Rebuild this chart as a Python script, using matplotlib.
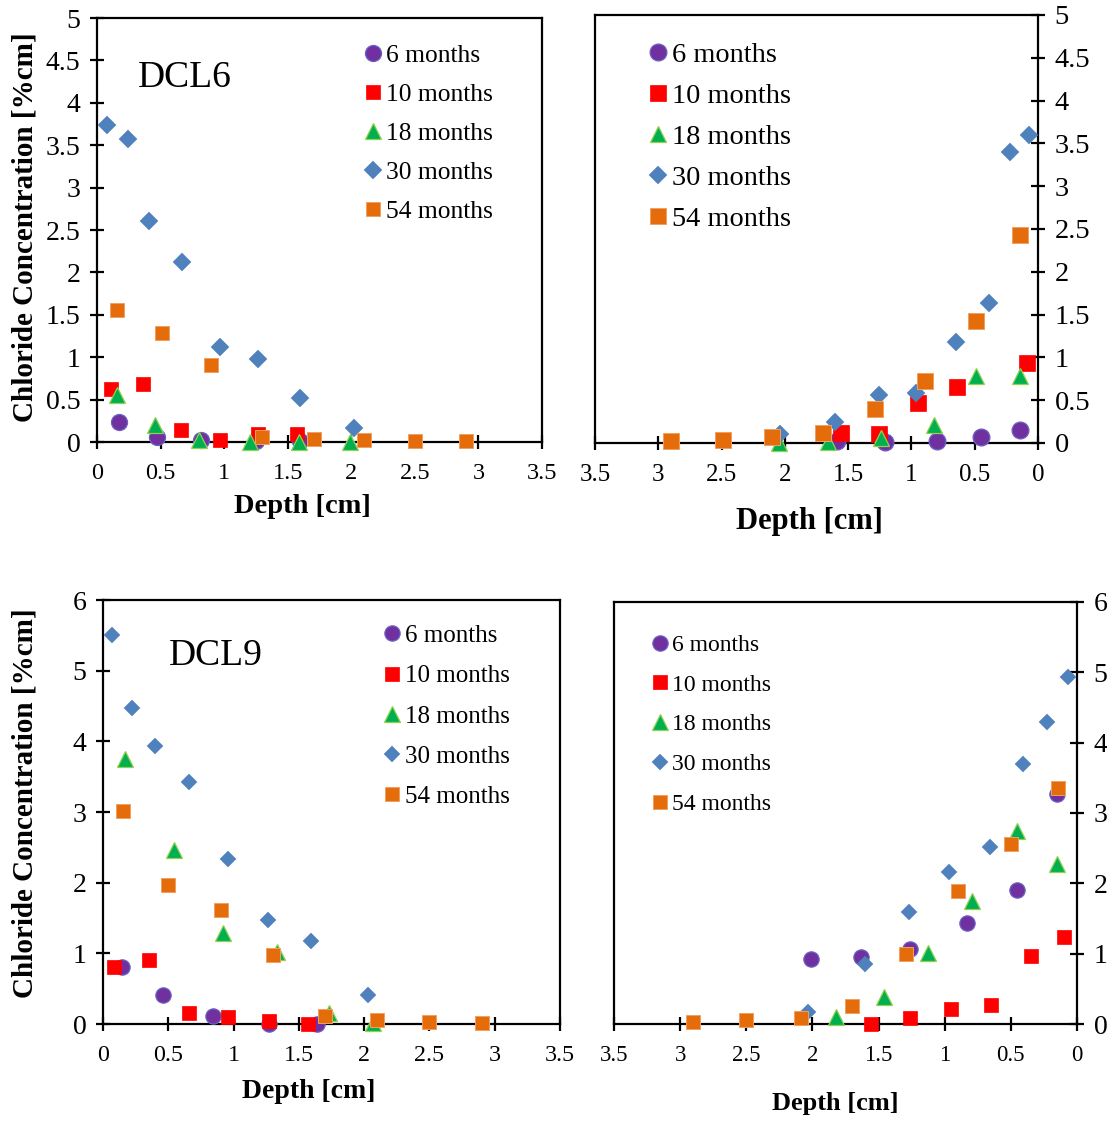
import matplotlib
matplotlib.use("Agg")
import matplotlib.pyplot as plt
from matplotlib.ticker import FuncFormatter, MultipleLocator

plt.rcParams['font.family'] = ['Liberation Serif', 'DejaVu Serif']

series_labels = ["6 months", "10 months", "18 months", "30 months", "54 months"]

# ---- DCL6, left panel ----
tl_d_6 = [0.17, 0.47, 0.82, 1.25, 1.60]
tl_c_6 = [0.23, 0.06, 0.02, 0.01, 0.01]
tl_d_10 = [0.11, 0.36, 0.66, 0.97, 1.27, 1.57]
tl_c_10 = [0.62, 0.68, 0.14, 0.02, 0.09, 0.09]
tl_d_18 = [0.16, 0.46, 0.80, 1.20, 1.59, 1.99]
tl_c_18 = [0.56, 0.20, 0.02, 0.0, 0.0, 0.0]
tl_d_30 = [0.08, 0.24, 0.41, 0.67, 0.97, 1.27, 1.60, 2.02]
tl_c_30 = [3.74, 3.57, 2.61, 2.12, 1.12, 0.98, 0.52, 0.17]
tl_d_54 = [0.16, 0.51, 0.90, 1.30, 1.71, 2.10, 2.50, 2.90]
tl_c_54 = [1.56, 1.29, 0.91, 0.06, 0.04, 0.02, 0.015, 0.015]

# ---- DCL6, right panel ----
tr_d_6 = [0.14, 0.45, 0.80, 1.21, 1.59]
tr_c_6 = [0.15, 0.07, 0.02, 0.01, 0.02]
tr_d_10 = [0.09, 0.64, 0.95, 1.26, 1.56]
tr_c_10 = [0.94, 0.66, 0.47, 0.10, 0.12]
tr_d_18 = [0.145, 0.49, 0.82, 1.24, 1.66, 2.05]
tr_c_18 = [0.78, 0.78, 0.21, 0.06, 0.01, 0.0]
tr_d_30 = [0.07, 0.22, 0.39, 0.65, 0.96, 1.26, 1.60, 2.04]
tr_c_30 = [3.60, 3.40, 1.63, 1.18, 0.58, 0.56, 0.25, 0.10]
tr_d_54 = [0.14, 0.49, 0.89, 1.29, 1.70, 2.10, 2.49, 2.90]
tr_c_54 = [2.43, 1.43, 0.73, 0.40, 0.12, 0.07, 0.03, 0.02]

# ---- DCL9, left panel ----
bl_d_6 = [0.145, 0.46, 0.84, 1.27, 1.64]
bl_c_6 = [0.80, 0.41, 0.11, 0.0, 0.0]
bl_d_10 = [0.086, 0.35, 0.66, 0.96, 1.27, 1.57]
bl_c_10 = [0.81, 0.90, 0.16, 0.094, 0.04, 0.0]
bl_d_18 = [0.17, 0.54, 0.92, 1.33, 1.73, 2.07]
bl_c_18 = [3.75, 2.46, 1.29, 1.02, 0.16, 0.02]
bl_d_30 = [0.07, 0.22, 0.40, 0.66, 0.96, 1.26, 1.59, 2.03]
bl_c_30 = [5.51, 4.47, 3.93, 3.43, 2.34, 1.47, 1.17, 0.41]
bl_d_54 = [0.15, 0.50, 0.90, 1.30, 1.70, 2.10, 2.50, 2.90]
bl_c_54 = [3.01, 1.96, 1.62, 0.98, 0.12, 0.06, 0.03, 0.02]

# ---- DCL9, right panel ----
br_d_6 = [0.15, 0.45, 0.83, 1.26, 1.63, 2.01]
br_c_6 = [3.27, 1.91, 1.44, 1.06, 0.95, 0.92]
br_d_10 = [0.10, 0.35, 0.65, 0.95, 1.26, 1.56]
br_c_10 = [1.24, 0.97, 0.27, 0.21, 0.09, 0.0]
br_d_18 = [0.15, 0.45, 0.79, 1.13, 1.46, 1.82]
br_c_18 = [2.27, 2.75, 1.75, 1.01, 0.38, 0.10]
br_d_30 = [0.07, 0.23, 0.41, 0.66, 0.97, 1.27, 1.60, 2.03]
br_c_30 = [4.93, 4.29, 3.69, 2.51, 2.16, 1.59, 0.85, 0.17]
br_d_54 = [0.14, 0.50, 0.90, 1.29, 1.70, 2.09, 2.50, 2.90]
br_c_54 = [3.35, 2.56, 1.89, 1.00, 0.26, 0.09, 0.05, 0.03]

styles = [
    dict(marker='o', color='#7030A0', mec='#6B62C0', mew=0.9, base=11.0),
    dict(marker='s', color='#FF0000', mec='#FF0000', mew=0.5, base=10.0),
    dict(marker='^', color='#00B050', mec='#92D050', mew=0.9, base=11.0),
    dict(marker='D', color='#4F81BD', mec='#4F81BD', mew=0.3, base=8.3),
    dict(marker='s', color='#E46C0A', mec='#F0A060', mew=0.7, base=10.0),
]

fig = plt.figure(figsize=(11.07, 11.24), dpi=100)
W, H = 1107, 1124

def axes_px(l, t, r, b):
    return fig.add_axes([l / W, 1 - b / H, (r - l) / W, (b - t) / H])

panels = [
    dict(ax=axes_px(97, 18, 542, 442), d=[tl_d_6, tl_d_10, tl_d_18, tl_d_30, tl_d_54],
         c=[tl_c_6, tl_c_10, tl_c_18, tl_c_30, tl_c_54], ymax=5, ystep=0.5, right=False,
         scale=1.05, xtick_fs=17.5, ytick_fs=20, xlab_fs=20.5, xlab_pos=(0.462, -0.153),
         leg=dict(fs=18.4, anchor=(0.605, 0.939), ls=0.63, hl=0.5, htp=0.27),
         title="DCL6", title_pos=(0.092, 0.860), ylab_pos=(-0.162, 0.506)),
    dict(ax=axes_px(595, 15, 1038, 443), d=[tr_d_6, tr_d_10, tr_d_18, tr_d_30, tr_d_54],
         c=[tr_c_6, tr_c_10, tr_c_18, tr_c_30, tr_c_54], ymax=5, ystep=0.5, right=True,
         scale=1.1, xtick_fs=18, ytick_fs=20.5, xlab_fs=22, xlab_pos=(0.483, -0.184),
         leg=dict(fs=20.4, anchor=(0.1255, 0.936), ls=0.53, hl=0.5, htp=0.27),
         title=None),
    dict(ax=axes_px(103, 600, 560, 1024), d=[bl_d_6, bl_d_10, bl_d_18, bl_d_30, bl_d_54],
         c=[bl_c_6, bl_c_10, bl_c_18, bl_c_30, bl_c_54], ymax=6, ystep=1, right=False,
         scale=1.0, xtick_fs=17.3, ytick_fs=20, xlab_fs=20, xlab_pos=(0.451, -0.160),
         leg=dict(fs=18, anchor=(0.618, 0.942), ls=0.71, hl=0.5, htp=0.27),
         title="DCL9", title_pos=(0.144, 0.869), ylab_pos=(-0.171, 0.521)),
    dict(ax=axes_px(614, 602, 1077, 1024), d=[br_d_6, br_d_10, br_d_18, br_d_30, br_d_54],
         c=[br_c_6, br_c_10, br_c_18, br_c_30, br_c_54], ymax=6, ystep=1, right=True,
         scale=1.0, xtick_fs=16.5, ytick_fs=20, xlab_fs=19, xlab_pos=(0.477, -0.188),
         leg=dict(fs=17, anchor=(0.085, 0.923), ls=0.77, hl=0.55, htp=0.25),
         title=None),
]

fmt = FuncFormatter(lambda v, p: f"{v:g}")

for p in panels:
    ax = p['ax']
    for lab, st, dd, cc in zip(series_labels, styles, p['d'], p['c']):
        ax.plot(dd, cc, ls='none', marker=st['marker'], ms=st['base'] * p['scale'],
                mfc=st['color'], mec=st['mec'], mew=st['mew'], label=lab, clip_on=False,
                zorder=3)
    ax.set_ylim(0, p['ymax'])
    ax.yaxis.set_major_locator(MultipleLocator(p['ystep']))
    ax.xaxis.set_major_locator(MultipleLocator(0.5))
    ax.xaxis.set_major_formatter(fmt)
    ax.yaxis.set_major_formatter(fmt)
    if p['right']:
        ax.set_xlim(3.5, 0)
        ax.yaxis.tick_right()
    else:
        ax.set_xlim(0, 3.5)
    for s in ax.spines.values():
        s.set_linewidth(1.6)
        s.set_color('black')
    ax.tick_params(axis='x', direction='inout', length=10, width=1.6, pad=10,
                   labelsize=p['xtick_fs'])
    ax.tick_params(axis='y', direction='inout', length=10, width=1.6, pad=7,
                   labelsize=p['ytick_fs'])
    ax.set_xlabel("Depth [cm]", fontsize=p['xlab_fs'], fontweight='bold')
    ax.xaxis.set_label_coords(*p['xlab_pos'])
    ax.xaxis.label.set_va('center')
    if not p['right']:
        ax.set_ylabel("Chloride Concentration [%cm]", fontsize=21, fontweight='bold')
        ax.yaxis.set_label_coords(*p['ylab_pos'])
        ax.yaxis.label.set_va('center')
    if p['title']:
        ax.text(p['title_pos'][0], p['title_pos'][1], p['title'], transform=ax.transAxes,
                fontsize=27, ha='left', va='center')
    lg = p['leg']
    ax.legend(loc='upper left', bbox_to_anchor=lg['anchor'], frameon=False,
              fontsize=lg['fs'], numpoints=1, borderpad=0, borderaxespad=0,
              labelspacing=lg['ls'], handlelength=lg['hl'], handletextpad=lg['htp'])

fig.savefig("out.png", dpi=100)
